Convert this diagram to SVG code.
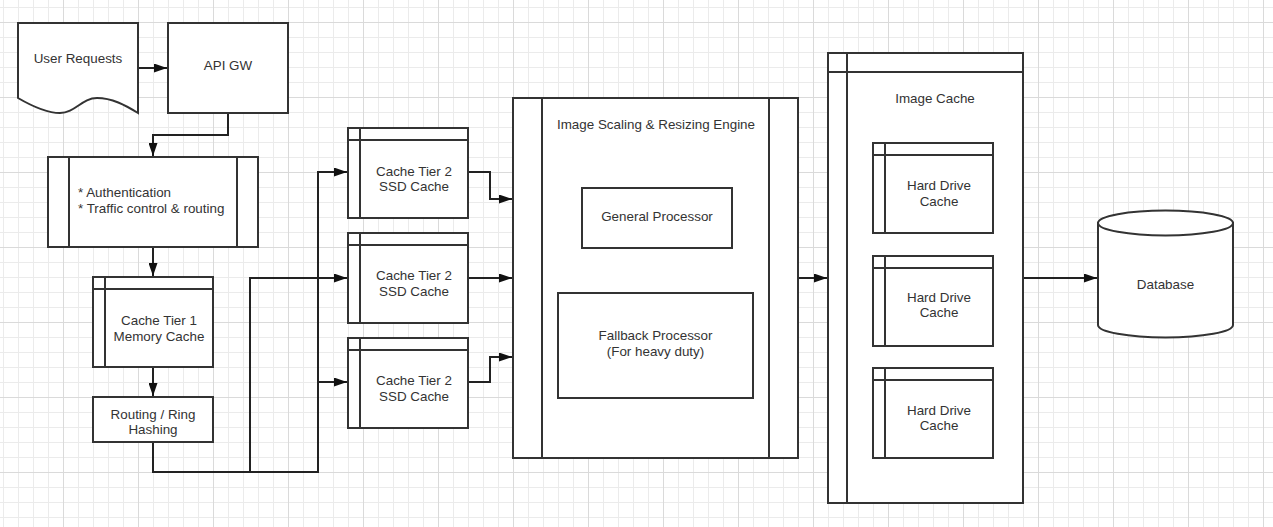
<svg xmlns="http://www.w3.org/2000/svg" width="1273" height="527" viewBox="0 0 1273 527">
<style>
.n{fill:#fff;stroke:#333;stroke-width:2}
.l{fill:none;stroke:#333;stroke-width:2}
.c{fill:none;stroke:#222;stroke-width:2;marker-end:url(#ah)}
text{font-family:"Liberation Sans",Arial,sans-serif;font-size:13.4px;fill:#333;text-anchor:middle}
.s{text-anchor:start}
</style>
<defs>
<pattern id="grid" patternUnits="userSpaceOnUse" x="63" y="22" width="75" height="75">
<rect x="15" y="0" width="1" height="75" fill="#ebebeb"/>
<rect x="30" y="0" width="1" height="75" fill="#ebebeb"/>
<rect x="45" y="0" width="1" height="75" fill="#ebebeb"/>
<rect x="60" y="0" width="1" height="75" fill="#ebebeb"/>
<rect x="0" y="15" width="75" height="1" fill="#ebebeb"/>
<rect x="0" y="30" width="75" height="1" fill="#ebebeb"/>
<rect x="0" y="45" width="75" height="1" fill="#ebebeb"/>
<rect x="0" y="60" width="75" height="1" fill="#ebebeb"/>
<rect x="0" y="0" width="1" height="75" fill="#dadada"/>
<rect x="0" y="0" width="75" height="1" fill="#dadada"/>
</pattern>
<marker id="ah" viewBox="0 0 13 9" markerWidth="13" markerHeight="9" refX="13" refY="4.5" markerUnits="userSpaceOnUse" orient="auto">
<path d="M0,0 L13,4.5 L0,9 Z" fill="#111"/>
</marker>
</defs>
<rect width="1273" height="527" fill="#fff"/>
<rect width="1273" height="527" fill="url(#grid)"/>

<g id="connectors">
<path class="c" d="M138,68 H167"/>
<path class="c" d="M228,113 V135 H153 V156"/>
<path class="c" d="M153,247 V276"/>
<path class="c" d="M153,367 V396"/>
<path class="c" d="M153,442 V472 H250 V278 H347"/>
<path class="c" d="M153,472 H318 V172 H347"/>
<path class="c" d="M318,382 H347"/>
<path class="c" d="M468,172 H490 V199 H512"/>
<path class="c" d="M468,278 H512"/>
<path class="c" d="M468,382 H490 V357 H512"/>
<path class="c" d="M657,248 V292"/>
<path class="c" d="M798,278 H827"/>
<path class="c" d="M1023,278 H1097"/>
</g>

<g id="user-requests">
<path class="n" d="M18,23 H138 V113 C125,105 112,98 97,98 C82,98 75,113 60,113 C45,113 30,105 18,98 Z"/>
<text x="78" y="63">User Requests</text>
</g>

<g id="api-gw">
<rect class="n" x="168" y="23" width="120" height="90"/>
<text x="228" y="70">API GW</text>
</g>

<g id="auth">
<rect class="n" x="48" y="157" width="210" height="90"/>
<path class="l" d="M69,157 V247 M237,157 V247"/>
<text class="s" x="78" y="197">* Authentication</text>
<text class="s" x="78" y="213">* Traffic control &amp; routing</text>
</g>

<g id="cache-tier1">
<rect class="n" x="93" y="277" width="120" height="90"/>
<path class="l" d="M93,289 H213 M105,277 V367"/>
<text x="159" y="325">Cache Tier 1</text>
<text x="159" y="341">Memory Cache</text>
</g>

<g id="routing">
<rect class="n" x="93" y="397" width="120" height="45"/>
<text x="153" y="419">Routing / Ring</text>
<text x="153" y="434">Hashing</text>
</g>

<g id="ssd1">
<rect class="n" x="348" y="128" width="120" height="90"/>
<path class="l" d="M348,140 H468 M360,128 V218"/>
<text x="414" y="176">Cache Tier 2</text>
<text x="414" y="191">SSD Cache</text>
</g>

<g id="ssd2">
<rect class="n" x="348" y="233" width="120" height="90"/>
<path class="l" d="M348,245 H468 M360,233 V323"/>
<text x="414" y="280">Cache Tier 2</text>
<text x="414" y="296">SSD Cache</text>
</g>

<g id="ssd3">
<rect class="n" x="348" y="338" width="120" height="90"/>
<path class="l" d="M348,350 H468 M360,338 V428"/>
<text x="414" y="385">Cache Tier 2</text>
<text x="414" y="401">SSD Cache</text>
</g>

<g id="engine">
<rect class="n" x="513" y="98" width="285" height="360"/>
<path class="l" d="M542,98 V458 M769,98 V458"/>
<text x="656" y="129">Image Scaling &amp; Resizing Engine</text>
</g>

<g id="general-processor">
<rect class="n" x="582" y="188" width="150" height="60"/>
<text x="657" y="221">General Processor</text>
</g>

<g id="fallback-processor">
<rect class="n" x="558" y="293" width="195" height="105"/>
<text x="655.5" y="340">Fallback Processor</text>
<text x="655.5" y="356">(For heavy duty)</text>
</g>

<g id="image-cache">
<rect class="n" x="828" y="53" width="195" height="450"/>
<path class="l" d="M828,72 H1023 M847,53 V503"/>
<text x="935" y="103">Image Cache</text>
</g>

<g id="hdd1">
<rect class="n" x="873" y="143" width="120" height="90"/>
<path class="l" d="M873,155 H993 M885,143 V233"/>
<text x="939" y="190">Hard Drive</text>
<text x="939" y="206">Cache</text>
</g>

<g id="hdd2">
<rect class="n" x="873" y="256" width="120" height="90"/>
<path class="l" d="M873,268 H993 M885,256 V346"/>
<text x="939" y="302">Hard Drive</text>
<text x="939" y="317">Cache</text>
</g>

<g id="hdd3">
<rect class="n" x="873" y="368" width="120" height="90"/>
<path class="l" d="M873,380 H993 M885,368 V458"/>
<text x="939" y="415">Hard Drive</text>
<text x="939" y="430">Cache</text>
</g>

<g id="database">
<path class="n" d="M1098,223 V325 A67.5,12.5 0 0 0 1233,325 V223 Z"/>
<ellipse class="n" cx="1165.5" cy="223" rx="67.5" ry="12.5"/>
<text x="1165.5" y="289">Database</text>
</g>
</svg>
